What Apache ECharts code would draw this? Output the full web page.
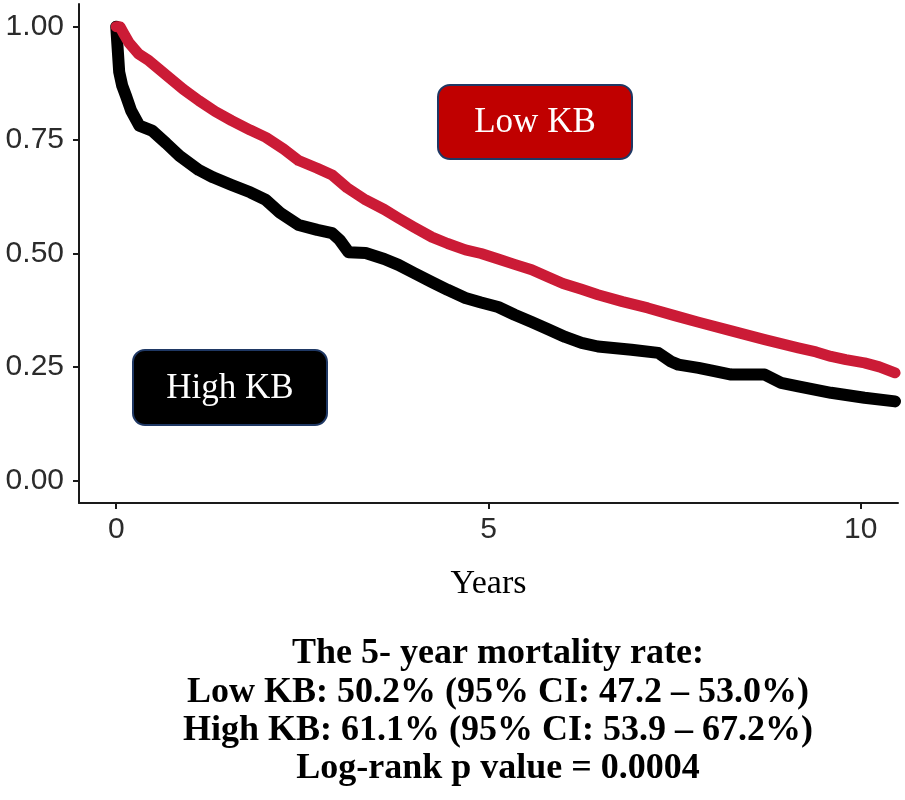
<!DOCTYPE html>
<html>
<head>
<meta charset="utf-8">
<script src="https://cdn.jsdelivr.net/npm/echarts@6/dist/echarts.min.js"></script>
<style>html,body{margin:0;padding:0;background:#fff}#c{width:905px;height:800px}</style>
</head>
<body>
<div id="c"></div>
<script>
// Low KB survival (years, probability)
const lowKB = [[0,1.0],[0.05,1.0],[0.1,0.985],[0.17,0.965],[0.3,0.94],[0.44,0.925],[0.71,0.888],[0.9,0.862],[1.11,0.837],[1.33,0.813],[1.55,0.793],[1.8,0.772],[2.01,0.756],[2.25,0.73],[2.45,0.705],[2.7,0.688],[2.9,0.673],[3.1,0.645],[3.35,0.618],[3.6,0.597],[3.79,0.578],[4.0,0.558],[4.24,0.536],[4.45,0.522],[4.69,0.508],[4.9,0.5],[5.13,0.488],[5.35,0.476],[5.58,0.464],[5.8,0.448],[6.0,0.434],[6.25,0.421],[6.47,0.409],[6.8,0.394],[7.14,0.38],[7.5,0.363],[7.81,0.349],[8.25,0.33],[8.71,0.31],[9.16,0.292],[9.4,0.283],[9.6,0.273],[9.8,0.266],[10.05,0.259],[10.25,0.25],[10.46,0.237]];
// High KB survival
const highKB = [[0,1.0],[0.02,0.95],[0.04,0.9],[0.08,0.87],[0.13,0.848],[0.2,0.815],[0.31,0.782],[0.48,0.771],[0.67,0.743],[0.85,0.715],[1.11,0.684],[1.3,0.668],[1.55,0.651],[1.8,0.635],[2.01,0.618],[2.2,0.59],[2.45,0.563],[2.7,0.552],[2.9,0.545],[3.0,0.53],[3.12,0.503],[3.35,0.501],[3.6,0.488],[3.79,0.475],[4.0,0.457],[4.24,0.437],[4.45,0.42],[4.69,0.402],[4.9,0.392],[5.13,0.382],[5.35,0.365],[5.58,0.349],[5.8,0.333],[6.03,0.316],[6.25,0.303],[6.47,0.295],[6.92,0.288],[7.28,0.281],[7.45,0.262],[7.55,0.255],[7.82,0.248],[8.05,0.24],[8.26,0.233],[8.71,0.233],[8.93,0.215],[9.16,0.207],[9.6,0.193],[10.05,0.182],[10.46,0.174]];
const xTicks = [0, 5, 10];
const yTicks = [0, 0.25, 0.5, 0.75, 1.0];
const footnote = [
  'The 5- year mortality rate:',
  'Low KB: 50.2% (95% CI: 47.2 \u2013 53.0%)',
  'High KB: 61.1% (95% CI: 53.9 \u2013 67.2%)',
  'Log-rank p value = 0.0004'
];
const lowLabel = 'Low KB';
const highLabel = 'High KB';

const chart = echarts.init(document.getElementById('c'), null, {renderer: 'canvas'});
const serif = '"Liberation Serif", "Times New Roman", serif';
const sans = '"Liberation Sans", Arial, sans-serif';
const axisCol = '#1a1a1a';

const graphics = [
  {type:'rect', shape:{x:438,y:85,width:194,height:74,r:12}, style:{fill:'#C00000',stroke:'#1F3864',lineWidth:2}},
  {type:'text', x:535, y:123, style:{text:lowLabel, fill:'#fff', font:'35px ' + serif, textAlign:'center', textVerticalAlign:'middle'}},
  {type:'rect', shape:{x:133,y:350,width:194,height:75,r:12}, style:{fill:'#000',stroke:'#1F3864',lineWidth:2}},
  {type:'text', x:230, y:389, style:{text:highLabel, fill:'#fff', font:'35px ' + serif, textAlign:'center', textVerticalAlign:'middle'}}
];
const lineY = [654, 693, 731, 769];
footnote.forEach((t, i) => {
  graphics.push({type:'text', x:498, y:lineY[i], style:{text:t, fill:'#000', font:'bold 36px ' + serif, textAlign:'center', textVerticalAlign:'middle'}});
});

chart.setOption({
  animation: false,
  grid: {left: 79, right: 7, top: 4, bottom: 297, containLabel: false},
  xAxis: {
    type: 'value', min: -0.5, max: 10.5,
    name: 'Years', nameLocation: 'middle', nameGap: 64,
    nameTextStyle: {fontFamily: serif, fontSize: 34, color: '#000'},
    axisLine: {show: true, onZero: false, lineStyle: {color: axisCol, width: 2}},
    axisTick: {show: true, length: 6, lineStyle: {color: axisCol, width: 2}, customValues: xTicks},
    axisLabel: {fontFamily: sans, fontSize: 30, color: '#2b2b2b', margin: 12, customValues: xTicks},
    splitLine: {show: false}
  },
  yAxis: {
    type: 'value', min: -0.05, max: 1.05,
    axisLine: {show: true, onZero: false, lineStyle: {color: axisCol, width: 2}},
    axisTick: {show: true, length: 6, lineStyle: {color: axisCol, width: 2}, customValues: yTicks},
    axisLabel: {fontFamily: sans, fontSize: 30, color: '#2b2b2b', margin: 15, customValues: yTicks,
      formatter: v => v.toFixed(2)},
    splitLine: {show: false}
  },
  series: [
    {type: 'line', name: highLabel, data: highKB, showSymbol: false, symbol: 'none',
      lineStyle: {color: '#000', width: 12, join: 'round', cap: 'round'}},
    {type: 'line', name: lowLabel, data: lowKB, showSymbol: false, symbol: 'none',
      lineStyle: {color: '#CB1B36', width: 11, join: 'round', cap: 'round'}}
  ],
  graphic: graphics
});
</script>
</body>
</html>
